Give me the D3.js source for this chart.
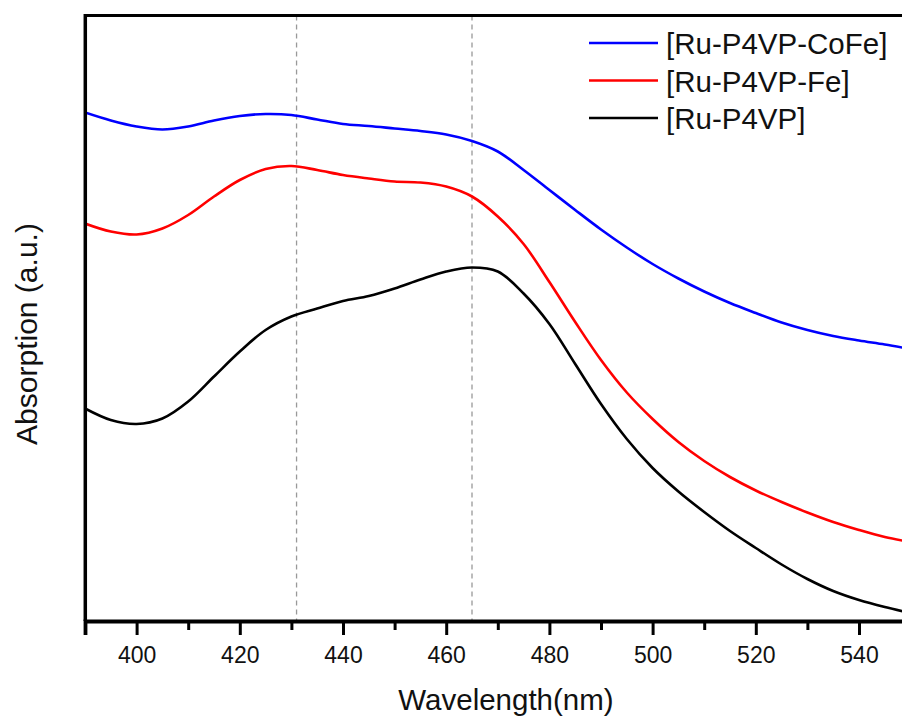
<!DOCTYPE html>
<html>
<head>
<meta charset="utf-8">
<script src="https://cdn.jsdelivr.net/npm/d3@7"></script>
<style>
  body { margin: 0; background: #fff; }
  svg { display: block; font-family: "Liberation Sans", Arial, sans-serif; }
  .tick text { font-size: 23px; fill: #111; }
</style>
</head>
<body>
<div id="chart"></div>
<script>
// UV-vis absorption spectra (arbitrary units)
const wavelength = [390, 395, 400, 405, 410, 415, 420, 425, 430, 435, 440, 445, 450, 455, 460, 465,
  470, 475, 480, 485, 490, 495, 500, 505, 510, 515, 520, 525, 530, 535, 540, 545, 550];
const ruP4vpCoFe = [1.015, 0.999, 0.987, 0.981, 0.987, 0.999, 1.008, 1.012, 1.010, 1.001, 0.992, 0.988,
  0.983, 0.978, 0.971, 0.958, 0.937, 0.900, 0.860, 0.820, 0.781, 0.745, 0.712, 0.683, 0.657, 0.634,
  0.614, 0.595, 0.580, 0.568, 0.559, 0.551, 0.542];
const ruP4vpFe = [0.793, 0.777, 0.771, 0.783, 0.810, 0.847, 0.880, 0.902, 0.908, 0.900, 0.890, 0.883,
  0.877, 0.875, 0.867, 0.847, 0.807, 0.752, 0.676, 0.596, 0.520, 0.455, 0.402, 0.356, 0.318, 0.286,
  0.259, 0.236, 0.215, 0.196, 0.180, 0.166, 0.156];
const ruP4vp = [0.423, 0.400, 0.392, 0.403, 0.437, 0.487, 0.537, 0.580, 0.607, 0.623, 0.638, 0.648,
  0.663, 0.681, 0.697, 0.705, 0.697, 0.653, 0.592, 0.512, 0.432, 0.362, 0.304, 0.257, 0.216, 0.178,
  0.144, 0.111, 0.082, 0.058, 0.040, 0.026, 0.014];
const seriesNames = ["[Ru-P4VP-CoFe]", "[Ru-P4VP-Fe]", "[Ru-P4VP]"];
const seriesColors = ["#0000ff", "#ff0000", "#000000"];
const majorTicks = [400, 420, 440, 460, 480, 500, 520, 540];
const minorTicks = [390, 410, 430, 450, 470, 490, 510, 530, 550];
const markerLines = [431, 465];

const W = 902, H = 718;
const svg = d3.select("#chart").append("svg").attr("width", W).attr("height", H);

// x: 5.16 px per nm, the frame runs past the right edge of the picture
const x = d3.scaleLinear().domain([390, 550]).range([85, 85 + 160 * 5.16]);
const y = d3.scaleLinear().domain([0, 1.21]).range([620, 15]);
const plotTop = 15.5, plotBottom = 621;

// reference lines at the band positions
svg.append("g").selectAll("line").data(markerLines).enter().append("line")
  .attr("x1", d => x(d)).attr("x2", d => x(d))
  .attr("y1", plotTop).attr("y2", plotBottom)
  .attr("stroke", "#999").attr("stroke-width", 1.3).attr("stroke-dasharray", "5,4");

const series = [ruP4vpCoFe, ruP4vpFe, ruP4vp];
const line = d3.line().x((_, i) => x(wavelength[i])).y(d => y(d)).curve(d3.curveCatmullRom.alpha(0.5));
svg.append("defs").append("clipPath").attr("id", "plot")
  .append("rect").attr("x", 85).attr("y", plotTop).attr("width", W - 85).attr("height", plotBottom - plotTop);
svg.append("g").attr("clip-path", "url(#plot)")
  .selectAll("path").data(series).enter().append("path")
  .attr("d", line).attr("fill", "none")
  .attr("stroke", (_, i) => seriesColors[i]).attr("stroke-width", 2.6)
  .attr("stroke-linejoin", "round");

// frame: top and left edges
svg.append("line").attr("x1", 85).attr("x2", W).attr("y1", plotTop).attr("y2", plotTop)
  .attr("stroke", "#000").attr("stroke-width", 3.2);
svg.append("line").attr("x1", 85.3).attr("x2", 85.3).attr("y1", plotTop - 1.5).attr("y2", plotBottom)
  .attr("stroke", "#000").attr("stroke-width", 3.5);

// bottom axis, major with labels, minor without
const ax = svg.append("g").attr("transform", `translate(0,${plotBottom})`)
  .call(d3.axisBottom(x).tickValues(majorTicks).tickSize(14).tickPadding(12).tickFormat(d3.format("d")));
ax.select(".domain").attr("stroke-width", 3.8);
ax.selectAll(".tick line").attr("stroke-width", 3);
const axm = svg.append("g").attr("transform", `translate(0,${plotBottom})`)
  .call(d3.axisBottom(x).tickValues(minorTicks).tickSize(9).tickFormat(""));
axm.select(".domain").remove();
axm.selectAll(".tick line").attr("stroke-width", 3);

// axis titles
svg.append("text").attr("x", 506).attr("y", 710).attr("text-anchor", "middle")
  .attr("font-size", 29.5).attr("fill", "#111").text("Wavelength(nm)");
svg.append("text").attr("transform", "translate(37,334) rotate(-90)").attr("text-anchor", "middle")
  .attr("font-size", 30).attr("fill", "#111").text("Absorption (a.u.)");

// legend
const legend = svg.append("g");
seriesNames.forEach((name, i) => {
  const ly = 43 + i * 37.5;
  legend.append("line").attr("x1", 589).attr("x2", 658).attr("y1", ly).attr("y2", ly)
    .attr("stroke", seriesColors[i]).attr("stroke-width", 2.6);
  legend.append("text").attr("x", 666).attr("y", ly + 11).attr("font-size", 29.5)
    .attr("fill", "#111").text(name);
});
</script>
</body>
</html>
